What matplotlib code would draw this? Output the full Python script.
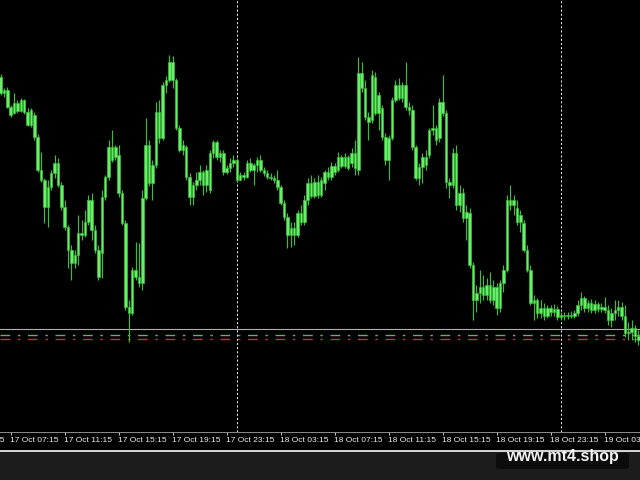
import matplotlib
matplotlib.use("Agg")
import matplotlib.pyplot as plt
from matplotlib.patches import Rectangle, FancyBboxPatch
from matplotlib.lines import Line2D
import numpy as np

# ---- data (15-minute bars, 17 Oct 06:30 onwards) ----
opens = [923,907,910,893,887,897,889,900,888,875,885,863,830,820,793,813,827,837,815,793,
         773,750,737,745,767,765,778,800,770,750,747,803,823,853,843,845,807,777,693,687,
         730,723,717,802,855,817,835,888,862,915,920,938,920,872,850,853,823,803,815,820,
         828,815,810,847,858,843,847,828,832,837,840,820,825,823,837,830,835,840,830,827,
         823,822,820,813,797,783,765,772,765,787,778,800,817,804,818,805,817,828,823,834,
         830,843,834,843,837,847,830,927,912,883,880,923,887,892,863,840,862,900,915,902,
         915,893,890,853,822,833,843,845,870,872,862,898,887,818,815,847,795,807,782,787,
         735,700,707,713,705,715,700,713,692,717,730,800,795,792,778,777,750,730,697,700,
         687,692,684,692,688,691,683,685,684,685,684,687,695,702,692,697,690,696,691,693,
         690,680,687,690,693,684,667,668,672,664]
closes = [907,910,893,885,897,889,900,888,875,890,863,830,820,793,813,827,837,815,793,773,
          750,737,745,767,765,778,800,770,750,723,803,823,853,840,853,807,777,693,687,730,
          723,717,802,855,817,835,888,862,915,920,938,920,872,850,855,823,803,815,820,828,
          815,830,847,858,843,847,828,832,837,840,820,825,823,837,830,835,840,830,827,823,
          822,820,813,797,783,765,772,765,787,778,800,817,804,818,805,820,828,823,834,828,
          843,834,843,832,847,832,927,912,883,878,925,887,905,863,840,862,900,915,902,915,
          893,890,853,822,833,843,835,870,872,860,898,887,818,815,847,795,807,782,788,735,
          700,707,713,705,715,700,713,692,717,730,800,795,800,778,785,750,730,697,700,687,
          692,684,692,688,691,683,685,684,685,684,687,695,702,692,697,690,696,691,693,690,
          680,687,690,693,684,667,668,672,664,660]
highs = [926,912,913,895,907,900,902,901,892,892,888,866,848,822,820,830,845,842,818,800,
         775,755,750,785,780,790,805,807,775,755,810,825,860,870,855,855,810,780,700,733,
         758,757,810,882,860,840,898,900,918,924,945,944,922,875,860,855,827,818,828,835,
         830,835,850,860,860,850,850,835,842,845,842,828,828,840,842,837,843,845,833,830,
         827,825,830,815,800,787,778,778,790,795,805,822,825,822,825,823,830,833,838,837,
         848,845,847,845,852,860,943,938,920,888,930,928,908,895,867,865,903,920,922,918,
         938,898,895,855,837,847,850,872,895,875,902,925,890,822,852,855,815,812,795,792,
         738,715,730,725,722,728,720,717,720,735,805,815,805,800,790,780,755,735,705,702,
         700,697,695,695,696,694,688,688,688,689,690,700,708,704,700,701,700,698,697,703,
         695,692,700,700,698,695,678,680,675,670]
lows = [905,903,892,883,886,887,888,886,874,873,860,828,818,777,773,810,822,813,790,770,
        732,720,732,735,760,763,775,760,747,720,722,800,820,838,840,803,775,690,658,685,
        720,713,710,800,814,800,832,857,860,907,918,912,870,848,845,820,795,795,810,815,
        805,808,807,842,840,838,825,826,828,833,818,820,820,822,828,815,828,828,824,821,
        820,817,810,795,780,752,753,755,763,775,775,795,802,802,802,803,810,820,820,825,
        828,832,832,830,833,825,825,908,880,860,877,885,870,860,835,820,860,898,900,898,
        890,885,850,820,815,817,830,842,865,855,858,884,812,802,812,790,788,778,760,732,
        680,688,697,700,700,697,695,685,688,708,728,790,785,775,768,748,728,695,680,682,
        682,680,682,684,684,680,680,680,681,682,682,684,690,688,688,687,687,688,688,687,
        675,673,680,684,680,663,660,660,658,655]

tick_bars = [-13, 3, 19, 35, 51, 67, 83, 99, 115, 131, 147, 163, 179]
tick_labels = ["17 Oct 03:15", "17 Oct 07:15", "17 Oct 11:15", "17 Oct 15:15", "17 Oct 19:15",
               "17 Oct 23:15", "18 Oct 03:15", "18 Oct 07:15", "18 Oct 11:15", "18 Oct 15:15",
               "18 Oct 19:15", "18 Oct 23:15", "19 Oct 03:15"]
separator_bars = [70, 166]          # 18 Oct 00:00, 19 Oct 00:00
level_gray = 670.7
level_green = 665.3
level_red = 660.7
watermark = "www.mt4.shop"

# ---- figure ----
fig = plt.figure(figsize=(6.4, 4.8), dpi=100, facecolor="black")
fig.patches.append(Rectangle((0, 0), 1, 28 / 480, transform=fig.transFigure,
                             facecolor="#1c1c1c", edgecolor="none", zorder=0))
fig.lines.append(Line2D([0, 1], [1 - 451 / 480] * 2, transform=fig.transFigure,
                        color="#d8d8d8", lw=1.4, zorder=1))

ax = fig.add_axes([0, 48 / 480, 1, 432 / 480], facecolor="black")
n = len(closes)
x = np.arange(n)
o = np.array(opens, float)
c = np.array(closes, float)
h = np.array(highs, float)
l = np.array(lows, float)

ax.vlines(x, l, h, color="#3cbc3c", lw=0.85, zorder=3)
bottom = np.minimum(o, c)
height = np.abs(c - o)
ax.bar(x, height, bottom=bottom, width=0.74, color="#6cec6c",
       edgecolor="#36c036", linewidth=0.5, zorder=4)

for sb in separator_bars:
    ax.axvline(sb, color="#e8e8e8", lw=0.75, linestyle=(0, (2, 2)), zorder=2)

ax.axhline(level_gray, color="#b0b0b0", lw=0.8, zorder=2)
ax.axhline(level_green, color="#6aa878", lw=1.0, linestyle=(0, (7, 5.5, 1.8, 5.5)), zorder=2)
ax.axhline(level_red, color="#b83838", lw=1.0, linestyle=(0, (7, 5.5, 1.8, 5.5)), zorder=2)

ax.set_xlim(-0.17, 189.46)
ax.set_ylim(568, 1000)
ax.set_yticks([])
vis = [t for t in tick_bars if t >= 0]
ax.set_xticks(vis)
ax.set_xticklabels([])
ax.tick_params(axis="x", direction="out", length=2.5, width=0.7, color="#c8c8c8")
for s in ["top", "left", "right"]:
    ax.spines[s].set_visible(False)
ax.spines["bottom"].set_color("#8c8c8c")
ax.spines["bottom"].set_linewidth(0.7)

trans = ax.get_xaxis_transform()
for tb, lab in zip(tick_bars, tick_labels):
    ax.text(tb - 0.2, -0.0205, lab, transform=trans, ha="left", va="center",
            color="#ececec", fontsize=6.0, family="Liberation Sans", clip_on=False)

# watermark
fig.patches.append(FancyBboxPatch((496 / 640, 1 - 469 / 480), 133 / 640, 16 / 480,
                                  boxstyle="round,pad=0,rounding_size=0.005",
                                  transform=fig.transFigure, facecolor="#0c0c0c",
                                  edgecolor="none", zorder=2))
fig.text(562 / 640, 1 - 457 / 480, watermark, ha="center", va="center", color="#f2f2f2",
         fontsize=11.5, fontweight="bold", family="Liberation Sans", zorder=3)

fig.savefig("out.png", dpi=100, facecolor=fig.get_facecolor())
